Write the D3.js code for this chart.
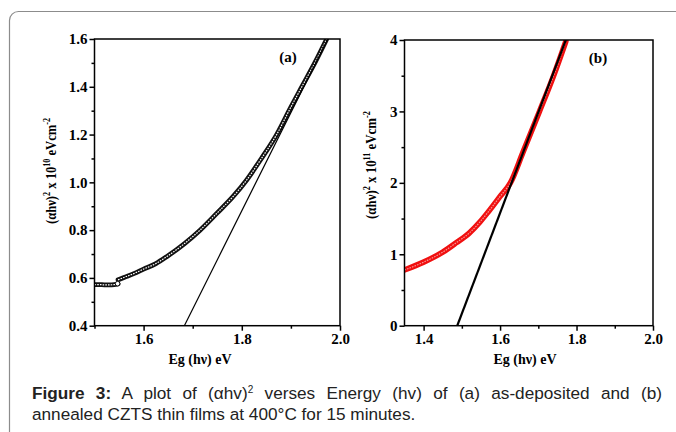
<!DOCTYPE html>
<html lang="en">
<head>
<meta charset="UTF-8">
<title>Figure 3</title>
<script src="https://d3js.org/d3.v7.min.js"></script>
<style>
    body { margin: 0; background: #fff; }
    .axis path, .axis line { stroke: #000; stroke-width: 1.5; }
    .axis text { font-family: "Liberation Serif", serif; font-weight: bold; font-size: 15px; fill: #000; }
    .title { font-family: "Liberation Serif", serif; font-weight: bold; font-size: 14px; fill: #000; }
    .ytitle { font-family: "Liberation Serif", serif; font-weight: bold; font-size: 15.5px; fill: #000; }
    .tag { font-family: "Liberation Serif", serif; font-weight: bold; font-size: 15px; fill: #000; }
    .caption {
        position: absolute; left: 32px; width: 630px;
        font-family: "Liberation Sans", Arial, sans-serif; font-size: 17.2px;
        line-height: 21px; color: #222; white-space: nowrap;
    }
    .caption.first { top: 383px; text-align: justify; text-align-last: justify; }
    .caption.second { top: 404px; }
    .caption sup { font-size: 10px; line-height: 0; vertical-align: 6px; }
</style>
</head>
<body>
<div id="chart" style="position:relative;width:676px;height:432px;"></div>
<script>
    // (a) as-deposited: flat start, then the main curve
    var aLowE = [1.50, 1.51, 1.52, 1.53, 1.54, 1.548];
    var aLowY = [0.572, 0.572, 0.571, 0.571, 0.572, 0.575];
    var aE = [1.548, 1.56, 1.58, 1.60, 1.625, 1.647, 1.684, 1.715, 1.749, 1.782, 1.81, 1.84, 1.871, 1.90, 1.921, 1.95, 1.973];
    var aY = [0.592, 0.602, 0.618, 0.637, 0.66, 0.689, 0.745, 0.80, 0.87, 0.94, 1.01, 1.10, 1.20, 1.315, 1.395, 1.505, 1.60];
    var aFitE = [1.683, 1.975];
    var aFitY = [0.4, 1.6];

    // (b) annealed
    var bE = [1.35, 1.40, 1.45, 1.485, 1.52, 1.547, 1.57, 1.60, 1.627, 1.66, 1.703, 1.74, 1.772];
    var bY = [0.78, 0.89, 1.03, 1.16, 1.30, 1.45, 1.60, 1.81, 2.0, 2.43, 3.0, 3.5, 3.98];
    var bFitE = [1.488, 1.772];
    var bFitY = [0, 4];

    var aXTicks = [1.6, 1.8, 2.0], aXMinor = [1.5, 1.7, 1.9];
    var aYTicks = [0.4, 0.6, 0.8, 1.0, 1.2, 1.4, 1.6], aYMinor = [0.5, 0.7, 0.9, 1.1, 1.3, 1.5];
    var bXTicks = [1.4, 1.6, 1.8, 2.0], bXMinor = [1.5, 1.7, 1.9];
    var bYTicks = [0, 1, 2, 3, 4], bYMinor = [0.5, 1.5, 2.5, 3.5];

    var svg = d3.select("#chart").append("svg")
        .attr("width", 676).attr("height", 432)
        .style("position", "absolute").style("left", 0).style("top", 0);

    // outer frame
    svg.append("rect")
        .attr("x", 9.5).attr("y", 11.5).attr("width", 720).attr("height", 480)
        .attr("rx", 9).attr("fill", "none").attr("stroke", "#8c8c8c").attr("stroke-width", 1.2);

    function zip(xs, ys) { return xs.map((d, i) => [d, ys[i]]); }

    function panel(opt) {
        var x = d3.scaleLinear().domain(opt.xDomain).range([opt.left, opt.right]);
        var y = d3.scaleLinear().domain(opt.yDomain).range([opt.bottom, opt.top]);

        var clipId = "clip" + opt.name;
        svg.append("clipPath").attr("id", clipId).append("rect")
            .attr("x", opt.left).attr("y", opt.top)
            .attr("width", opt.right - opt.left).attr("height", opt.bottom - opt.top);

        var g = svg.append("g").attr("clip-path", "url(#" + clipId + ")");
        var line = d3.line().x(d => x(d[0])).y(d => y(d[1])).curve(d3.curveMonotoneX);

        // data drawn as a dense run of open circles: dark band with a light core
        opt.series.forEach(s => {
            g.append("path").attr("d", line(s)).attr("fill", "none")
                .attr("stroke", opt.color).attr("stroke-width", opt.band).attr("stroke-linecap", "round");
            g.append("path").attr("d", line(s)).attr("fill", "none")
                .attr("stroke", "#fff").attr("stroke-opacity", opt.coreOpacity)
                .attr("stroke-width", 1.2).attr("stroke-dasharray", "1.6,1.1");
        });
        if (opt.marker) {
            g.append("circle").attr("cx", x(opt.marker[0])).attr("cy", y(opt.marker[1])).attr("r", 2.3)
                .attr("fill", "#fff").attr("stroke", opt.color).attr("stroke-width", 1);
        }
        g.append("path").attr("d", d3.line().x(d => x(d[0])).y(d => y(d[1]))(opt.fit))
            .attr("fill", "none").attr("stroke", "#000").attr("stroke-width", opt.fitWidth);

        // frame
        svg.append("rect").attr("x", opt.left).attr("y", opt.top)
            .attr("width", opt.right - opt.left).attr("height", opt.bottom - opt.top)
            .attr("fill", "none").attr("stroke", "#000").attr("stroke-width", 1.5);

        svg.append("g").attr("class", "axis").attr("transform", "translate(0," + opt.bottom + ")")
            .call(d3.axisBottom(x).tickValues(opt.xTicks).tickFormat(d3.format(".1f")).tickSize(5).tickPadding(3))
            .call(g => g.select(".domain").remove());
        svg.append("g").attr("class", "axis").attr("transform", "translate(0," + opt.bottom + ")")
            .call(d3.axisBottom(x).tickValues(opt.xMinor).tickFormat("").tickSize(3))
            .call(g => g.select(".domain").remove());
        svg.append("g").attr("class", "axis").attr("transform", "translate(" + opt.left + ",0)")
            .call(d3.axisLeft(y).tickValues(opt.yTicks).tickFormat(opt.yFormat).tickSize(5).tickPadding(2))
            .call(g => g.select(".domain").remove());
        svg.append("g").attr("class", "axis").attr("transform", "translate(" + opt.left + ",0)")
            .call(d3.axisLeft(y).tickValues(opt.yMinor).tickFormat("").tickSize(3))
            .call(g => g.select(".domain").remove());

        svg.append("text").attr("class", "tag").attr("x", opt.tagX).attr("y", opt.top + 23)
            .attr("text-anchor", "middle").text(opt.tag);

        svg.append("text").attr("class", "title")
            .attr("x", opt.xTitleX).attr("y", 364).attr("text-anchor", "middle").text("Eg (h\u03bd) eV");

        // y title: the original uses a condensed face, so squeeze it along its length
        var yt = svg.append("text").attr("class", "ytitle").attr("text-anchor", "middle");
        yt.append("tspan").text("(\u03b1h\u03bd)");
        yt.append("tspan").attr("dy", -6).attr("font-size", 10).text("2");
        yt.append("tspan").attr("dy", 6).text(" x 10");
        yt.append("tspan").attr("dy", -6).attr("font-size", 10).text(opt.exp);
        yt.append("tspan").attr("dy", 6).text(" eVcm");
        yt.append("tspan").attr("dy", -6).attr("font-size", 10).text("-2");
        var len = yt.node().getBBox().width;
        var k = opt.yTitleLen / len;
        yt.attr("transform", "translate(" + opt.yTitleX + "," + opt.yTitleY + ") rotate(-90) scale(" + k + ",1)");
    }

    panel({
        name: "a", left: 94.5, right: 340, top: 39, bottom: 325.7,
        xDomain: [1.5, 2.0], yDomain: [0.4, 1.6],
        xTicks: aXTicks, xMinor: aXMinor, yTicks: aYTicks, yMinor: aYMinor,
        yFormat: d3.format(".1f"),
        series: [zip(aLowE, aLowY), zip(aE, aY)], marker: [1.547, 0.576],
        fit: zip(aFitE, aFitY), fitWidth: 1.2, color: "#111", band: 4.8, coreOpacity: 1,
        tag: "(a)", tagX: 288, xTitleX: 200, yTitleX: 56, yTitleY: 171, yTitleLen: 106, exp: "10"
    });

    panel({
        name: "b", left: 404.5, right: 653, top: 40, bottom: 325.7,
        xDomain: [1.35, 2.0], yDomain: [0, 4],
        xTicks: bXTicks, xMinor: bXMinor, yTicks: bYTicks, yMinor: bYMinor,
        yFormat: d3.format("d"),
        series: [zip(bE, bY)], marker: null,
        fit: zip(bFitE, bFitY), fitWidth: 2.2, color: "#f01010", band: 5.6, coreOpacity: 0.55,
        tag: "(b)", tagX: 598, xTitleX: 525, yTitleX: 376, yTitleY: 165, yTitleLen: 108, exp: "11"
    });
</script>
<div class="caption first"><b>Figure 3:</b> A plot of (&alpha;hv)<sup>2</sup> verses Energy (hv) of (a) as-deposited and (b)</div>
<div class="caption second">annealed CZTS thin films at 400°C for 15 minutes.</div>
</body>
</html>
